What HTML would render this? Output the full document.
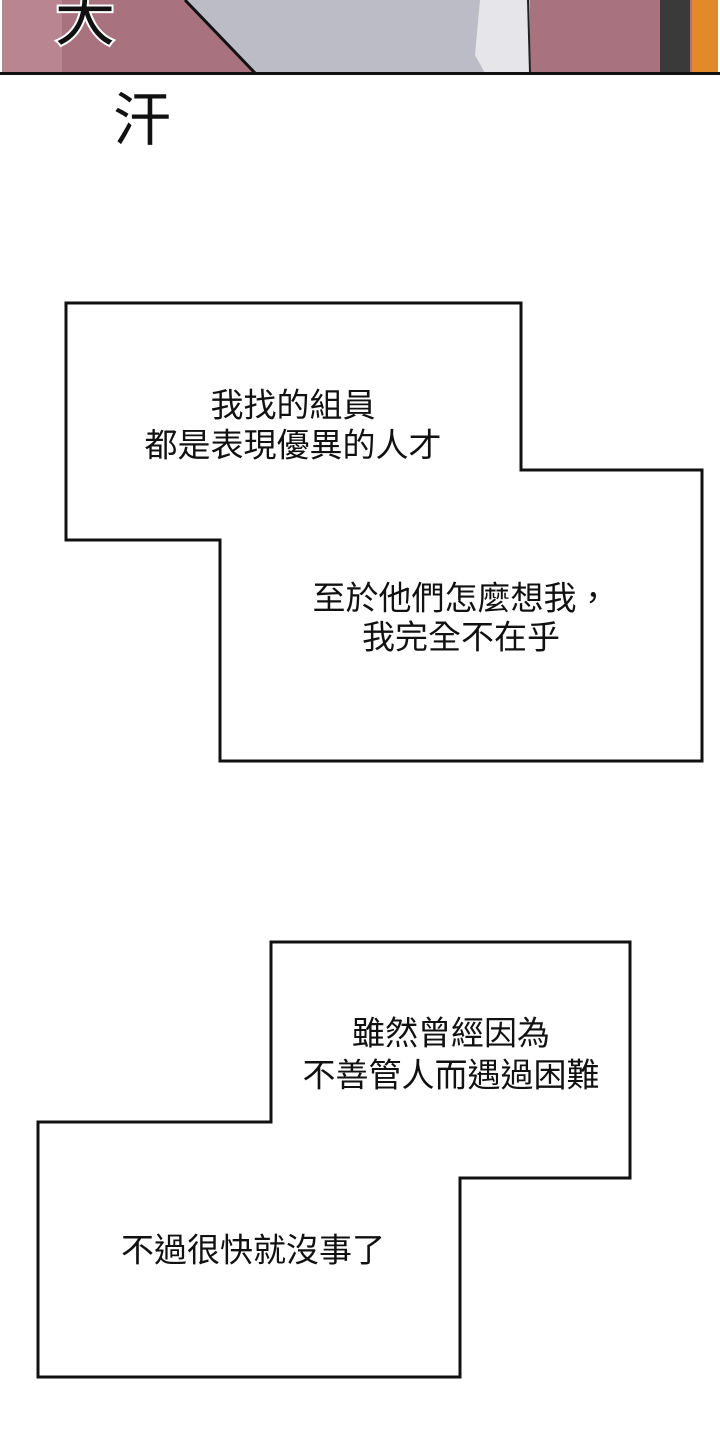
<!DOCTYPE html>
<html><head><meta charset="utf-8"><style>
html,body{margin:0;padding:0;background:#fff;}
svg{display:block;}
text{font-family:"Liberation Sans","Noto Sans CJK TC",sans-serif;font-size:33px;fill:#111;}
</style></head><body>
<svg width="720" height="1440" viewBox="0 0 720 1440" xmlns="http://www.w3.org/2000/svg">
<rect x="0" y="0" width="720" height="1440" fill="#fff"/>
<!-- top panel -->
<rect x="2" y="0" width="716" height="73" fill="#a9727f"/>
<rect x="2" y="0" width="60" height="73" fill="#b98591"/>
<polygon points="185,0 480,0 530,0 530,73 255,73" fill="#bcbcc6"/>
<line x1="185" y1="0" x2="255" y2="73" stroke="#111" stroke-width="3"/>
<polygon points="480,0 528,0 530,73 485,73 475,55" fill="#e6e6ea"/>
<line x1="528" y1="0" x2="530" y2="73" stroke="#222" stroke-width="2"/>
<rect x="660" y="0" width="30" height="73" fill="#3a3a3a"/>
<rect x="692" y="0" width="26" height="73" fill="#e08a2a"/>
<rect x="0" y="72" width="720" height="3" fill="#111"/>
<text x="55" y="40" style="font-size:60px;fill:#111;stroke:#fff;stroke-width:4;paint-order:stroke">大</text>
<text x="113" y="140" style="font-size:58px;fill:#111">汗</text>
<!-- bubble 1 -->
<polygon points="66,303 521,303 521,470 702,470 702,761 220,761 220,540 66,540" fill="#fff" stroke="#111" stroke-width="3"/>
<text x="293" y="405" text-anchor="middle" dominant-baseline="central">我找的組員</text>
<text x="293" y="445" text-anchor="middle" dominant-baseline="central">都是表現優異的人才</text>
<text x="461" y="598" text-anchor="middle" dominant-baseline="central">至於他們怎麼想我，</text>
<text x="461" y="637" text-anchor="middle" dominant-baseline="central">我完全不在乎</text>
<!-- bubble 2 -->
<polygon points="271,942 630,942 630,1178 460,1178 460,1377 38,1377 38,1122 271,1122" fill="#fff" stroke="#111" stroke-width="3"/>
<text x="451" y="1033" text-anchor="middle" dominant-baseline="central">雖然曾經因為</text>
<text x="451" y="1075" text-anchor="middle" dominant-baseline="central">不善管人而遇過困難</text>
<text x="253" y="1250" text-anchor="middle" dominant-baseline="central">不過很快就沒事了</text>
</svg>
</body></html>
